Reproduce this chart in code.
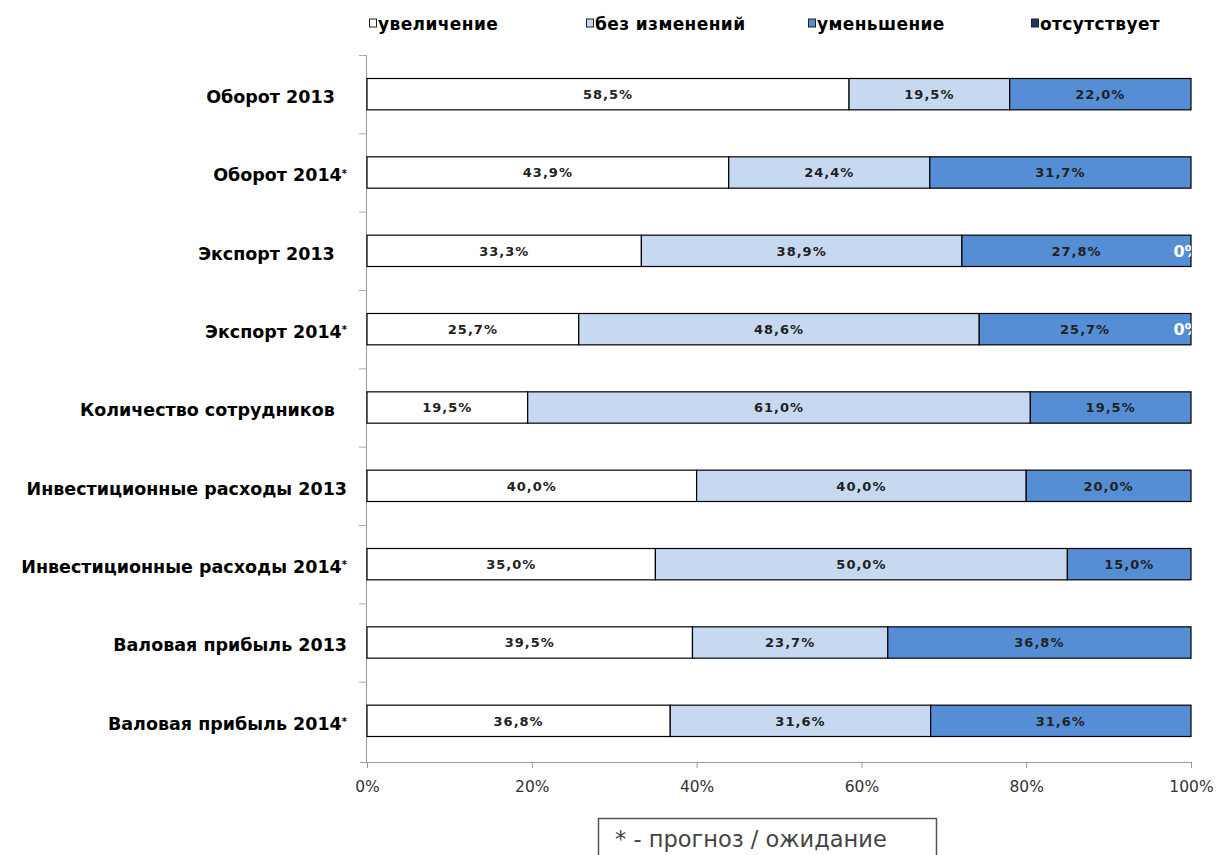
<!DOCTYPE html>
<html>
<head>
<meta charset="utf-8">
<script src="https://cdn.jsdelivr.net/npm/d3@7"></script>
<style>
  body { margin: 0; background: #fff; }
  text { white-space: pre; }
</style>
</head>
<body>
<div id="chart"></div>
<script>
const categories = [
  'Оборот 2013  ',
  'Оборот 2014*',
  'Экспорт 2013  ',
  'Экспорт 2014*',
  'Количество сотрудников  ',
  'Инвестиционные расходы 2013',
  'Инвестиционные расходы 2014*',
  'Валовая прибыль 2013',
  'Валовая прибыль 2014*',
];

const seriesNames = ['увеличение', 'без изменений', 'уменьшение', 'отсутствует'];
const increase = [58.5, 43.9, 33.3, 25.7, 19.5, 40.0, 35.0, 39.5, 36.8];
const noChange = [19.5, 24.4, 38.9, 48.6, 61.0, 40.0, 50.0, 23.7, 31.6];
const decrease = [22.0, 31.7, 27.8, 25.7, 19.5, 20.0, 15.0, 36.8, 31.6];
const absent = [null, null, 0, 0, null, null, null, null, null];

const xTicks = [0, 0.2, 0.4, 0.6, 0.8, 1];
const footnote = '* - прогноз / ожидание';

const colors = ['#ffffff', '#c6d9f1', '#558ed5', '#1f3864'];

const width = 1216;
const height = 855;
const margin = { top: 55, right: 25, bottom: 95, left: 367 };

const svg = d3
  .select('#chart')
  .append('svg')
  .attr('width', width)
  .attr('height', height);

const x = d3
  .scaleLinear()
  .domain([0, 1])
  .range([margin.left, width - margin.right]);

const y = d3
  .scaleBand()
  .domain(categories)
  .range([margin.top, height - margin.bottom])
  .paddingInner(0.6)
  .paddingOuter(0.3);

const series = [increase, noChange, decrease, absent];

// stack the rows by hand, keeping the share of each part
const rows = categories.map((cat, i) => {
  let start = 0;
  return series.map((s, k) => {
    const v = s[i];
    const seg = { cat, k, v, x0: start / 100, x1: (start + (v || 0)) / 100 };
    start += v || 0;
    return seg;
  });
});

svg
  .append('clipPath')
  .attr('id', 'plot-clip')
  .append('rect')
  .attr('x', x(0))
  .attr('y', 0)
  .attr('width', x(1) - x(0))
  .attr('height', height);

// y axis with ticks between the categories
const yAxisG = svg.append('g').attr('id', 'y-axis');
const step = y.step();
const yStart = y.range()[0];
yAxisG
  .append('line')
  .attr('x1', x(0) - 0.5)
  .attr('x2', x(0) - 0.5)
  .attr('y1', yStart)
  .attr('y2', y.range()[1] + 2)
  .attr('stroke', '#999');
yAxisG
  .selectAll('.ytick')
  .data(d3.range(categories.length))
  .enter()
  .append('line')
  .attr('x1', x(0) - 8)
  .attr('x2', x(0))
  .attr('y1', (d) => yStart + d * step + 0.5)
  .attr('y2', (d) => yStart + d * step + 0.5)
  .attr('stroke', '#aaa');

// x axis
const xAxis = d3
  .axisBottom(x)
  .tickValues(xTicks)
  .tickFormat((d) => Math.round(d * 100) + '%')
  .tickSize(6)
  .tickPadding(13);

const xAxisG = svg
  .append('g')
  .attr('id', 'x-axis')
  .attr('transform', `translate(0, ${y.range()[1] + 2})`)
  .call(xAxis);
xAxisG.select('.domain').attr('stroke', '#999').attr('d', `M${x(0) - 7},0.5H${x(1) + 0.5}`);
xAxisG.selectAll('.tick line').attr('stroke', '#999');
xAxisG
  .selectAll('.tick text')
  .attr('fill', '#333')
  .attr('font-family', 'DejaVu Sans, sans-serif')
  .attr('font-size', 15.5);

// bars
const rowG = svg
  .selectAll('.row')
  .data(rows)
  .enter()
  .append('g')
  .attr('class', 'row');

rowG
  .selectAll('rect')
  .data((d) => d.filter((s) => s.v))
  .enter()
  .append('rect')
  .attr('x', (d) => x(d.x0))
  .attr('y', (d) => y(d.cat))
  .attr('width', (d) => x(d.x1) - x(d.x0))
  .attr('height', y.bandwidth())
  .attr('fill', (d) => colors[d.k])
  .attr('stroke', '#000')
  .attr('stroke-width', 1.2);

rowG
  .selectAll('.lbl')
  .data((d) => d.filter((s) => s.v !== null))
  .enter()
  .append('text')
  .attr('class', 'lbl')
  .attr('clip-path', 'url(#plot-clip)')
  .attr('x', (d) => (d.v ? x((d.x0 + d.x1) / 2) : x(d.x0) - 4))
  .attr('y', (d) => y(d.cat) + y.bandwidth() / 2)
  .attr('dy', '0.36em')
  .attr('text-anchor', 'middle')
  .attr('font-family', 'DejaVu Sans, sans-serif')
  .attr('font-weight', 'bold')
  .attr('font-size', (d) => (d.v ? 13 : 16))
  .attr('letter-spacing', (d) => (d.v ? 1 : 0))
  .attr('fill', (d) => (d.v ? '#222' : '#fff'))
  .text((d) => d.v.toFixed(d.v ? 1 : 0).replace('.', ',') + '%');

// category labels
const catText = svg
  .selectAll('.cat')
  .data(categories)
  .enter()
  .append('text')
  .attr('class', 'cat')
  .attr('x', x(0) - 20)
  .attr('y', (d) => y(d) + y.bandwidth() / 2)
  .attr('dy', '0.5em')
  .attr('text-anchor', 'end')
  .attr('font-family', 'DejaVu Sans, sans-serif')
  .attr('font-weight', 'bold')
  .attr('font-size', 17.5)
  .attr('fill', '#000');

catText.append('tspan').text((d) => d.replace('*', ''));
catText
  .filter((d) => d.includes('*'))
  .append('tspan')
  .attr('dy', '-0.45em')
  .attr('font-size', 10)
  .text('*');

// legend
const legendX = [369, 586, 808, 1031];
const legend = svg
  .selectAll('.legend')
  .data(seriesNames)
  .enter()
  .append('g')
  .attr('class', 'legend')
  .attr('transform', (d, i) => `translate(${legendX[i]}, 24)`);

legend
  .append('rect')
  .attr('x', 0.5)
  .attr('y', -5)
  .attr('width', 7)
  .attr('height', 8)
  .attr('fill', (d, i) => colors[i])
  .attr('stroke', '#222');

legend
  .append('text')
  .attr('x', 9)
  .attr('y', 0)
  .attr('dy', '0.36em')
  .attr('font-family', 'DejaVu Sans, sans-serif')
  .attr('font-weight', 'bold')
  .attr('font-size', 17)
  .attr('letter-spacing', 0.4)
  .attr('fill', '#000')
  .text((d) => d);

// footnote box
const note = svg.append('g').attr('transform', 'translate(598, 818)');
note
  .append('rect')
  .attr('x', 0.5)
  .attr('y', 0.5)
  .attr('width', 338)
  .attr('height', 60)
  .attr('fill', '#fff')
  .attr('stroke', '#555')
  .attr('stroke-width', 1.5);
note
  .append('text')
  .attr('x', 17)
  .attr('y', 29)
  .attr('font-family', 'DejaVu Sans, sans-serif')
  .attr('font-size', 22.5)
  .attr('fill', '#444')
  .text(footnote);
</script>
</body>
</html>
